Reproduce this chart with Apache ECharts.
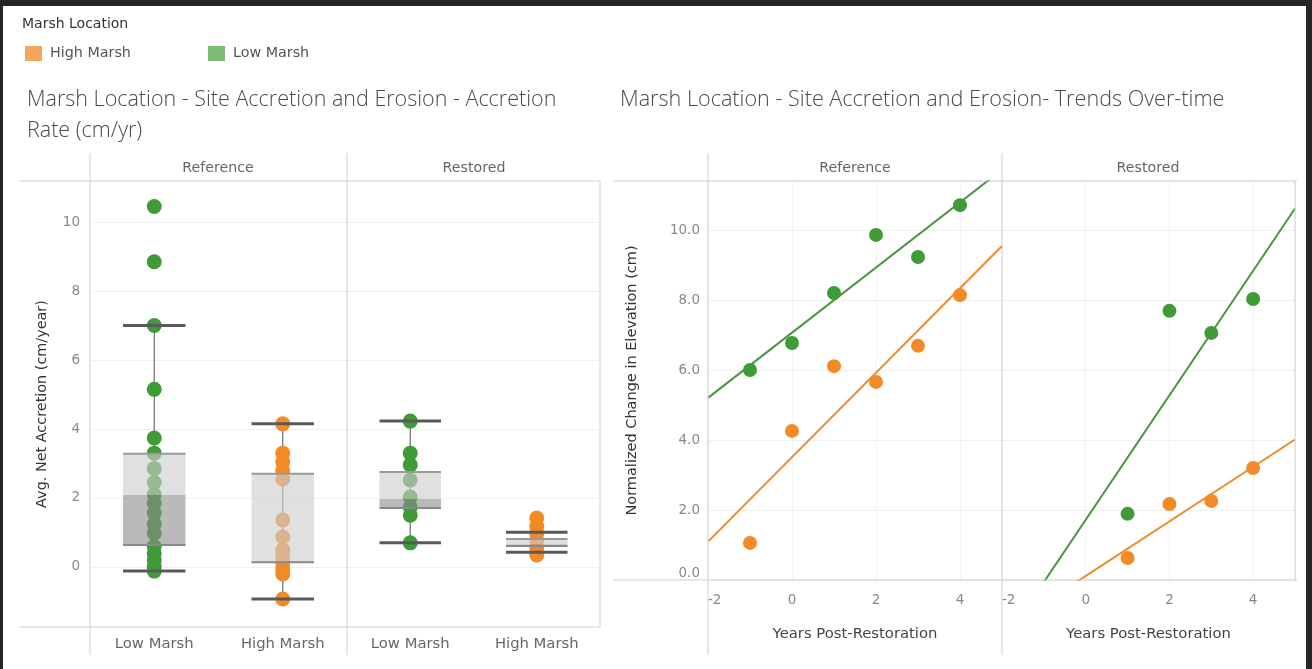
<!DOCTYPE html>
<html>
<head>
<meta charset="utf-8">
<title>Marsh Location - Site Accretion and Erosion</title>
<script src="https://cdn.jsdelivr.net/npm/echarts@6/dist/echarts.min.js"></script>
<style>
  html, body { margin: 0; padding: 0; background: #ffffff; }
  #chart { width: 1312px; height: 669px; }
</style>
</head>
<body>
<div id="chart"></div>
<script>
// ---- Accretion rate box plots (cm/yr) ----
const marshCategories = ['Low Marsh', 'High Marsh'];
const panes = ['Reference', 'Restored'];

// Site-level average net accretion values
const refLowMarsh = [10.45, 8.85, 7.0, 5.15, 3.74, 3.3, 2.85, 2.45, 2.1, 1.85, 1.57, 1.25, 0.98, 0.6, 0.4, 0.2, 0.02, -0.12];
const refHighMarsh = [4.15, 3.3, 3.05, 2.8, 2.55, 1.36, 0.87, 0.5, 0.3, 0.12, -0.05, -0.2, -0.93];
const restLowMarsh = [4.23, 3.3, 2.96, 2.52, 2.03, 1.74, 1.5, 0.7];
const restHighMarsh = [1.42, 1.17, 0.98, 0.78, 0.55, 0.35];

// Box statistics: [lower whisker, Q1, median, Q3, upper whisker]
const refLowBox = [-0.12, 0.64, 2.09, 3.28, 7.0];
const refHighBox = [-0.93, 0.14, 0.16, 2.7, 4.15];
const restLowBox = [0.7, 1.71, 1.97, 2.75, 4.23];
const restHighBox = [0.43, 0.61, 0.66, 0.81, 1.01];

const accretionTicks = [0, 2, 4, 6, 8, 10];

// ---- Elevation change over time (cm) ----
const refYears = [-1, 0, 1, 2, 3, 4];
const refLowElev = [6.0, 6.77, 8.2, 9.86, 9.23, 10.71];
const refHighElev = [1.06, 4.26, 6.11, 5.66, 6.69, 8.14];
const restYears = [1, 2, 3, 4];
const restLowElev = [1.89, 7.69, 7.06, 8.03];
const restHighElev = [0.63, 2.17, 2.26, 3.2];

const GREEN = '#3f9a38';
const ORANGE = '#f28a26';
const GREEN_LINE = '#4b9443';
const ORANGE_LINE = '#f08a2c';
const FONT = 'DejaVu Sans';
const TITLE_FONT = 'Open Sans';
const YEAR_MIN = -2, YEAR_MAX = 5;

// least-squares trend line evaluated across the year axis
function trend(xs, ys) {
  const n = xs.length;
  const mx = xs.reduce((a, b) => a + b, 0) / n;
  const my = ys.reduce((a, b) => a + b, 0) / n;
  let sxy = 0, sxx = 0;
  for (let i = 0; i < n; i++) { sxy += (xs[i] - mx) * (ys[i] - my); sxx += (xs[i] - mx) ** 2; }
  const slope = sxy / sxx;
  const icpt = my - slope * mx;
  return [[YEAR_MIN, icpt + slope * YEAR_MIN], [YEAR_MAX, icpt + slope * YEAR_MAX]];
}
function pairs(xs, ys) { return xs.map((x, i) => [x, ys[i]]); }
function catPoints(idx, vals) { return vals.map(v => [idx, v]); }

// whisker stem drawn beneath the points
function renderStem(params, api) {
  const x = api.value(0);
  const lo = api.coord([x, api.value(1)]);
  const hi = api.coord([x, api.value(5)]);
  return { type: 'line', shape: { x1: lo[0], y1: lo[1], x2: hi[0], y2: hi[1] },
           style: { stroke: '#6e6e6e', lineWidth: 1.2 } };
}
// two-tone box plus whisker caps drawn over the points
function renderBox(params, api) {
  const x = api.value(0);
  const lo = api.coord([x, api.value(1)]);
  const q1 = api.coord([x, api.value(2)]);
  const md = api.coord([x, api.value(3)]);
  const q3 = api.coord([x, api.value(4)]);
  const hi = api.coord([x, api.value(5)]);
  const half = api.size([1, 0])[0] * 0.243;
  const cx = lo[0];
  const hline = (y, color, w) => ({ type: 'line', shape: { x1: cx - half, y1: y, x2: cx + half, y2: y },
                                    style: { stroke: color, lineWidth: w } });
  return { type: 'group', children: [
    { type: 'rect', shape: { x: cx - half, y: md[1], width: 2 * half, height: q1[1] - md[1] },
      style: { fill: 'rgba(140,140,140,0.6)' } },
    { type: 'rect', shape: { x: cx - half, y: q3[1], width: 2 * half, height: md[1] - q3[1] },
      style: { fill: 'rgba(205,205,205,0.62)' } },
    hline(q1[1], '#8a8a8a', 2),
    hline(q3[1], '#9a9a9a', 2),
    hline(lo[1], '#5a5a5a', 3),
    hline(hi[1], '#5a5a5a', 3)
  ]};
}

const boxAxisY = (idx, showLabel) => ({
  type: 'value', gridIndex: idx, min: -1.74, max: 11.19,
  axisLine: { show: false },
  axisTick: { show: false, customValues: accretionTicks },
  axisLabel: { show: showLabel, customValues: accretionTicks, color: '#888', fontSize: 13.5, fontFamily: FONT, margin: 10 },
  splitLine: { lineStyle: { color: '#f0f0f0', width: 1 } },
  name: showLabel ? 'Avg. Net Accretion (cm/year)' : '',
  nameLocation: 'middle', nameGap: 41,
  nameTextStyle: { color: '#333', fontSize: 14.4, fontFamily: FONT }
});
const boxAxisX = (idx) => ({
  type: 'category', gridIndex: idx, data: marshCategories,
  axisLine: { show: false }, axisTick: { show: false },
  axisLabel: { color: '#666', fontSize: 14.8, fontFamily: FONT, margin: 10 }
});
const yearAxisX = (idx) => ({
  type: 'value', gridIndex: idx, min: YEAR_MIN, max: YEAR_MAX, interval: 2,
  axisLine: { show: false }, axisTick: { show: false },
  axisLabel: { color: '#888', fontSize: 13.5, fontFamily: FONT, margin: 13, alignMinLabel: 'left', showMaxLabel: false },
  splitLine: { lineStyle: { color: '#f2f2f2', width: 1 } },
  name: 'Years Post-Restoration', nameLocation: 'middle', nameGap: 47,
  nameTextStyle: { color: '#444', fontSize: 14.8, fontFamily: FONT }
});
const elevAxisY = (idx, showLabel) => ({
  type: 'value', gridIndex: idx, min: 0, max: 11.4, interval: 2,
  axisLine: { show: false }, axisTick: { show: false },
  axisLabel: { show: showLabel, color: '#888', fontSize: 13.5, fontFamily: FONT, margin: 8, showMaxLabel: false,
               formatter: v => v.toFixed(1), verticalAlignMinLabel: 'bottom' },
  splitLine: { lineStyle: { color: '#f0f0f0', width: 1 } },
  name: showLabel ? 'Normalized Change in Elevation (cm)' : '',
  nameLocation: 'middle', nameGap: 68,
  nameTextStyle: { color: '#333', fontSize: 14.5, fontFamily: FONT }
});

const dot = (name, color, xi, data) => ({
  type: 'scatter', name, xAxisIndex: xi, yAxisIndex: xi, data, symbolSize: 15, z: 3,
  itemStyle: { color, opacity: 1 }
});
const trendLine = (name, color, xi, data) => ({
  type: 'line', name, xAxisIndex: xi, yAxisIndex: xi, data, showSymbol: false, clip: true, z: 2,
  lineStyle: { color, width: 2 }, silent: true
});

const boxSets = [
  [[0, ...refLowBox], [1, ...refHighBox]],
  [[0, ...restLowBox], [1, ...restHighBox]]
];

const frame = '#cfcfcf';
const vline = (x, y1, y2) => ({ type: 'line', shape: { x1: x, y1, x2: x, y2 }, style: { stroke: frame, lineWidth: 1 }, z: 10 });
const hline = (y, x1, x2) => ({ type: 'line', shape: { x1, y1: y, x2, y2: y }, style: { stroke: frame, lineWidth: 1 }, z: 10 });
const header = (text, x) => ({ type: 'text', x, y: 168, style: { text, fill: '#666', fontSize: 14.2, fontFamily: FONT, align: 'center', verticalAlign: 'middle' }, z: 10 });

const legendText = { color: '#555', fontSize: 14.3, fontFamily: FONT, padding: [0, 0, 0, 3] };

const option = {
  animation: false,
  backgroundColor: '#ffffff',
  title: [
    { text: 'Marsh Location', left: 17, top: 12, textStyle: { fontSize: 14, fontWeight: 'normal', color: '#333', fontFamily: FONT } },
    { text: 'Marsh Location - Site Accretion and Erosion - Accretion\nRate (cm/yr)', left: 22, top: 79,
      textStyle: { fontSize: 21.5, fontWeight: 300, color: '#4a4a4a', fontFamily: TITLE_FONT, lineHeight: 31 } },
    { text: 'Marsh Location - Site Accretion and Erosion- Trends Over-time', left: 615, top: 79,
      textStyle: { fontSize: 21.6, fontWeight: 300, color: '#4a4a4a', fontFamily: TITLE_FONT, lineHeight: 31 } }
  ],
  legend: [
    { left: 20, top: 41, icon: 'rect', itemWidth: 17, itemHeight: 15, selectedMode: false,
      data: [{ name: 'High Marsh', itemStyle: { color: '#f6a55c' } }], textStyle: legendText },
    { left: 203, top: 41, icon: 'rect', itemWidth: 17, itemHeight: 15, selectedMode: false,
      data: [{ name: 'Low Marsh', itemStyle: { color: '#7dbb74' } }], textStyle: legendText }
  ],
  grid: [
    { left: 90, top: 181, width: 257, height: 446 },
    { left: 347, top: 181, width: 253, height: 446 },
    { left: 708, top: 181, width: 294, height: 399 },
    { left: 1002, top: 181, width: 293, height: 399 }
  ],
  xAxis: [boxAxisX(0), boxAxisX(1), yearAxisX(2), yearAxisX(3)],
  yAxis: [boxAxisY(0, true), boxAxisY(1, false), elevAxisY(2, true), elevAxisY(3, false)],
  series: [
    // accretion box plots
    { type: 'custom', xAxisIndex: 0, yAxisIndex: 0, renderItem: renderStem, data: boxSets[0], z: 1, silent: true },
    { type: 'custom', xAxisIndex: 1, yAxisIndex: 1, renderItem: renderStem, data: boxSets[1], z: 1, silent: true },
    dot('Low Marsh', GREEN, 0, catPoints(0, refLowMarsh)),
    dot('High Marsh', ORANGE, 0, catPoints(1, refHighMarsh)),
    dot('Low Marsh', GREEN, 1, catPoints(0, restLowMarsh)),
    dot('High Marsh', ORANGE, 1, catPoints(1, restHighMarsh)),
    { type: 'custom', xAxisIndex: 0, yAxisIndex: 0, renderItem: renderBox, data: boxSets[0], z: 5, silent: true },
    { type: 'custom', xAxisIndex: 1, yAxisIndex: 1, renderItem: renderBox, data: boxSets[1], z: 5, silent: true },
    // elevation trends
    trendLine('Low Marsh', GREEN_LINE, 2, trend(refYears, refLowElev)),
    trendLine('High Marsh', ORANGE_LINE, 2, trend(refYears, refHighElev)),
    trendLine('Low Marsh', GREEN_LINE, 3, trend(restYears, restLowElev)),
    trendLine('High Marsh', ORANGE_LINE, 3, trend(restYears, restHighElev)),
    Object.assign(dot('Low Marsh', GREEN, 2, pairs(refYears, refLowElev)), { symbolSize: 14 }),
    Object.assign(dot('High Marsh', ORANGE, 2, pairs(refYears, refHighElev)), { symbolSize: 14 }),
    Object.assign(dot('Low Marsh', GREEN, 3, pairs(restYears, restLowElev)), { symbolSize: 14 }),
    Object.assign(dot('High Marsh', ORANGE, 3, pairs(restYears, restHighElev)), { symbolSize: 14 })
  ],
  graphic: [
    // window edges
    { type: 'rect', shape: { x: 0, y: 0, width: 1312, height: 6 }, style: { fill: '#262626' }, z: 20 },
    { type: 'rect', shape: { x: 1306, y: 0, width: 6, height: 669 }, style: { fill: '#262626' }, z: 20 },
    { type: 'rect', shape: { x: 0, y: 0, width: 3, height: 669 }, style: { fill: '#262626' }, z: 20 },
    // accretion panel frame
    hline(181, 20, 600), hline(627, 20, 600),
    vline(90, 153, 655), vline(347, 153, 655), vline(600, 181, 627),
    header(panes[0], 218), header(panes[1], 474),
    // elevation panel frame
    hline(181, 613, 1297), hline(580, 613, 1297),
    vline(708, 153, 655), vline(1002, 153, 655), vline(1295, 181, 580),
    header(panes[0], 855), header(panes[1], 1148)
  ]
};

const chart = echarts.init(document.getElementById('chart'), null, { renderer: 'canvas' });
chart.setOption(option);
</script>
</body>
</html>
